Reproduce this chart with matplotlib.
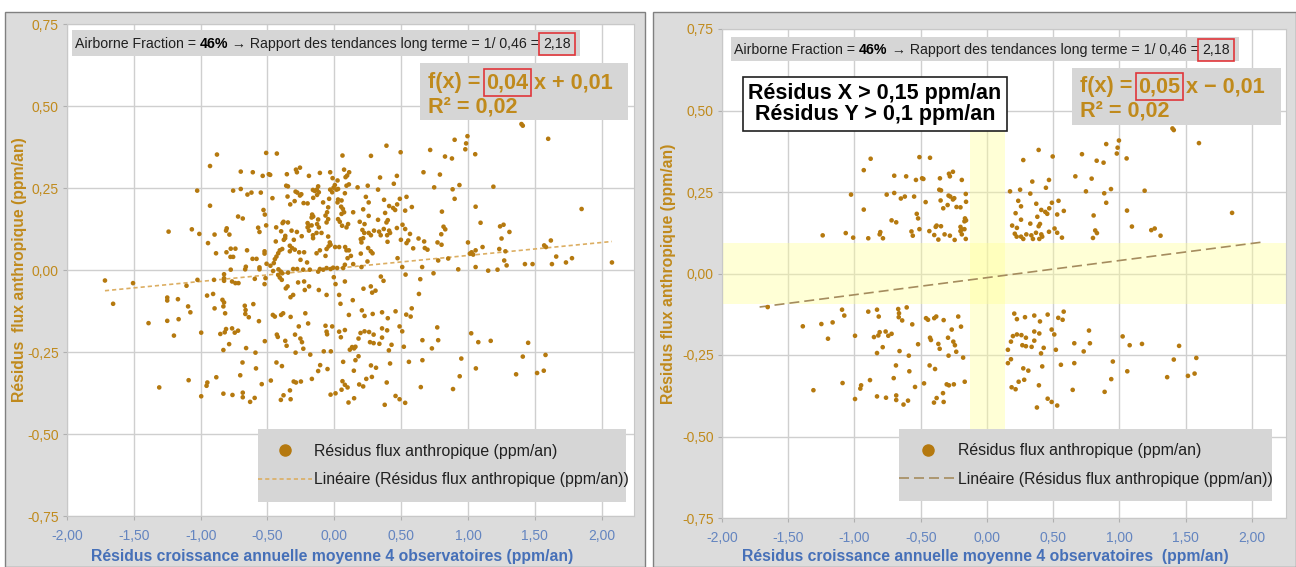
import numpy as np
import matplotlib
matplotlib.use("Agg")
import matplotlib.pyplot as plt
from matplotlib.patches import Rectangle
from matplotlib.lines import Line2D
from matplotlib.ticker import FuncFormatter, MultipleLocator

plt.rcParams['font.family'] = ['Liberation Sans', 'DejaVu Sans']

# residuals, upper-left quadrant (x < -0.15, y > 0.1)
x_ul = [-0.878, -0.93, -0.70, -0.61, -1.026, -0.757, -0.70, -0.65, -0.62, -0.55, -0.93, -0.72, -0.685,
        -0.57, -0.56, -1.24, -1.066, -1.01, -0.896, -0.805, -0.81, -0.785,
        -0.51, -0.43, -0.536, -0.49, -0.48, -0.355, -0.28, -0.257, -0.287, -0.19, -0.36, -0.347, -0.463,
        -0.35, -0.29, -0.277, -0.247, -0.257, -0.16, -0.158, -0.297, -0.33, -0.23, -0.2, -0.53, -0.52,
        -0.166, -0.158, -0.17, -0.51, -0.435, -0.38, -0.387, -0.347, -0.398, -0.367, -0.32, -0.28, -0.244,
        -0.2, -0.19, -0.2, -0.17, -0.19, -0.16]
y_ul = [0.352, 0.317, 0.30, 0.298, 0.242, 0.242, 0.247, 0.23, 0.236, 0.236, 0.196, 0.163, 0.157,
        0.129, 0.116, 0.117, 0.124, 0.11, 0.108, 0.127, 0.12, 0.108,
        0.357, 0.355, 0.287, 0.292, 0.29, 0.292, 0.298, 0.312, 0.306, 0.287, 0.257, 0.255, 0.219,
        0.224, 0.239, 0.236, 0.231, 0.227, 0.244, 0.22, 0.21, 0.2, 0.204, 0.203, 0.183, 0.169,
        0.169, 0.163, 0.16, 0.136, 0.13, 0.147, 0.143, 0.145, 0.118, 0.104, 0.12, 0.116, 0.103,
        0.143, 0.135, 0.13, 0.136, 0.12, 0.106]

# upper-right quadrant (x > 0.15, y > 0.1)
x_ur = [0.174, 0.25, 0.327, 0.274, 0.39, 0.496, 0.342, 0.468, 0.445, 0.236, 0.257, 0.372, 0.41, 0.44,
        0.455, 0.47, 0.49, 0.54, 0.58, 0.53, 0.216, 0.257, 0.38, 0.40, 0.39, 0.327, 0.19, 0.226, 0.297,
        0.21, 0.224, 0.257, 0.335, 0.37, 0.41, 0.417, 0.274, 0.347, 0.395, 0.468, 0.51, 0.53, 0.566,
        0.717, 0.667, 0.747, 0.79, 0.828, 0.88, 0.90, 0.98, 0.986, 0.996, 1.054, 0.885, 0.936, 0.90,
        1.19, 0.805, 1.057, 1.094, 0.817, 0.83, 0.80, 1.24, 1.266, 1.31, 1.40, 1.41, 1.60, 1.85]
y_ur = [0.252, 0.257, 0.245, 0.348, 0.379, 0.359, 0.282, 0.287, 0.263, 0.223, 0.206, 0.214, 0.195, 0.189,
        0.183, 0.2, 0.217, 0.223, 0.192, 0.181, 0.185, 0.165, 0.174, 0.152, 0.145, 0.153, 0.147, 0.14, 0.12,
        0.122, 0.113, 0.113, 0.117, 0.125, 0.12, 0.113, 0.106, 0.106, 0.106, 0.128, 0.138, 0.125, 0.11,
        0.366, 0.298, 0.252, 0.291, 0.346, 0.34, 0.397, 0.368, 0.386, 0.408, 0.353, 0.246, 0.259, 0.217,
        0.254, 0.178, 0.193, 0.144, 0.132, 0.124, 0.109, 0.133, 0.138, 0.116, 0.445, 0.44, 0.40, 0.186]

# lower-left quadrant (x < -0.15, y < -0.1)
x_ll = [-1.655, -1.39, -1.25, -1.165, -1.20, -1.094, -1.077, -0.996, -0.896, -0.83, -0.817, -0.67, -0.664,
        -0.666, -0.64, -0.606, -0.564, -0.853, -0.82, -0.81, -0.765, -0.745, -0.72, -0.787, -0.83, -0.66,
        -0.59, -0.52, -0.687, -0.586, -0.704, -0.543, -0.475, -0.883, -1.09, -0.95, -0.956, -1.31, -0.996,
        -0.83, -0.762, -0.685, -0.685, -0.63, -0.596,
        -0.46, -0.445, -0.398, -0.383, -0.327, -0.217, -0.266, -0.196, -0.43, -0.423, -0.367, -0.357,
        -0.294, -0.254, -0.242, -0.232, -0.29, -0.18, -0.433, -0.392, -0.304, -0.287, -0.25, -0.168,
        -0.332, -0.38, -0.40, -0.327]
y_ll = [-0.103, -0.162, -0.155, -0.150, -0.20, -0.111, -0.129, -0.191, -0.117, -0.111, -0.132, -0.109, -0.122,
        -0.134, -0.144, -0.104, -0.156, -0.195, -0.19, -0.18, -0.178, -0.191, -0.185, -0.226, -0.244, -0.238,
        -0.252, -0.217, -0.282, -0.30, -0.321, -0.348, -0.337, -0.327, -0.336, -0.343, -0.353, -0.358, -0.385,
        -0.377, -0.381, -0.374, -0.388, -0.402, -0.39,
        -0.137, -0.142, -0.137, -0.132, -0.143, -0.132, -0.172, -0.163, -0.197, -0.204, -0.216, -0.231,
        -0.197, -0.209, -0.22, -0.24, -0.252, -0.258, -0.282, -0.293, -0.34, -0.343, -0.34, -0.332,
        -0.367, -0.382, -0.396, -0.394]

# lower-right quadrant (x > 0.15, y < -0.1)
x_lr = [0.206, 0.226, 0.287, 0.357, 0.40, 0.458, 0.538, 0.571, 0.579, 0.196, 0.226, 0.26, 0.294, 0.181,
        0.267, 0.294, 0.337, 0.357, 0.395, 0.357, 0.488, 0.508, 0.428, 0.408, 0.52, 0.158, 0.158, 0.181,
        0.274, 0.312, 0.417, 0.239, 0.281, 0.186, 0.216, 0.392, 0.558, 0.659, 0.659, 0.77, 0.777, 0.73,
        0.647, 0.458, 0.488, 0.53, 0.377, 0.888, 0.95, 0.938, 1.059, 1.024, 1.077, 1.17, 1.36, 1.45,
        1.41, 1.517, 1.567, 1.58]
y_lr = [-0.123, -0.14, -0.134, -0.129, -0.147, -0.126, -0.136, -0.142, -0.117, -0.192, -0.187, -0.189, -0.197,
        -0.209, -0.22, -0.223, -0.225, -0.178, -0.184, -0.206, -0.172, -0.187, -0.228, -0.245, -0.234, -0.234,
        -0.275, -0.263, -0.291, -0.298, -0.285, -0.332, -0.326, -0.349, -0.355, -0.343, -0.28, -0.214, -0.275,
        -0.175, -0.214, -0.239, -0.357, -0.384, -0.394, -0.405, -0.411, -0.363, -0.27, -0.324, -0.30, -0.193,
        -0.22, -0.216, -0.318, -0.222, -0.264, -0.314, -0.307, -0.259]

# central cross (|x| < 0.15 or |y| < 0.1), hidden in the filtered chart
x_mid = [-1.716, -1.506, -1.106, -1.024, -1.25, -1.25, -1.17, -0.945, -0.885, -0.90, -0.825, -0.825, -0.825,
         -0.952, -0.907, -0.837, -0.825, -0.807, -0.775, -0.74, -0.777, -0.757, -0.775, -0.765, -0.74, -0.717,
         -0.653, -0.662, -0.667, -0.595, -0.612, -0.582, -0.56, -0.56, -0.522, -0.522, -0.522, -0.515, -0.507,
         -0.478, -0.453, -0.445, -0.433, -0.42, -0.408, -0.39, -0.458, -0.418, -0.40, -0.39, -0.42, -0.408,
         -0.393, -0.438, -0.378, -0.368, -0.303, -0.333, -0.316, -0.296, -0.333, -0.263, -0.226, -0.253,
         -0.204, -0.133, -0.108, -0.066, -0.058, -0.043, -0.028, 0.006, 0.036, 0.081, 0.091, 0.099, -0.034,
         -0.159, -0.133, -0.096, -0.046, -0.346, -0.308, -0.278, -0.233, -0.183, -0.121, -0.108, -0.083,
         -0.058, -0.028, -0.009, 0.021, 0.066, 0.079, -0.35, -0.363, -0.226, -0.189, -0.221, -0.116, -0.058,
         -0.004, 0.009, 0.036, 0.079, -0.328, -0.308, 0.046, -0.271,
         0.109, 0.124, 0.141, 0.203, 0.248, 0.198, 0.253, 0.273, 0.286, 0.203, 0.198, 0.216, 0.398, 0.498,
         0.54, 0.553, 0.59, 0.63, 0.672, 0.677, 0.697, 0.772, 0.802, 0.473, 0.508, 0.657, 0.777, 0.852,
         0.927, 1.0, 1.014, 1.027, 1.039, 1.057, 1.109, 1.057, 1.151, 1.221, 1.234, 1.251, 1.28, 1.271,
         1.289, 1.426, 1.483, 1.57, 1.583, 1.62, 1.628, 1.66, 1.733, 1.778, 2.077, 0.348, 0.368, 0.218,
         0.273, 0.283, 0.308, 0.138, 0.533, 0.643, 0.633, 0.742,
         0.061, 0.073, 0.111, 0.096, 0.084, -0.031, -0.013, -0.108, 0.024, 0.004, -0.006, 0.016, 0.028,
         0.091, 0.109, -0.121, -0.131, -0.116, -0.146, -0.031, -0.016, 0.079, 0.028, 0.024, 0.054, -0.084,
         -0.039, -0.129, 0.051, 0.064, 0.073, 0.054, -0.046, -0.054, -0.066, -0.046, -0.058, -0.121, -0.129,
         -0.116, 0.028, 0.041, 0.058, 0.091, 0.141, 0.103,
         -0.016, -0.066, -0.058, -0.054, 0.036, 0.079, 0.049, 0.109, 0.116, 0.133, 0.148, -0.079, -0.026,
         0.066, 0.146, -0.051, -0.106, -0.121, 0.061, 0.079, 0.099, 0.054, 0.009, -0.028, 0.148, 0.106]
y_mid = [-0.032, -0.040, -0.048, -0.030, -0.084, -0.093, -0.089, 0.082, 0.051, -0.030, -0.013, -0.025, -0.033,
         -0.078, -0.073, -0.091, -0.099, 0.054, 0.065, 0.065, 0.040, 0.040, 0.001, -0.035, -0.040, -0.040,
         0.060, 0.010, 0.002, -0.027, 0.034, 0.034, 0.008, 0.002, 0.057, 0.050, -0.043, -0.025, 0.019,
         0.013, 0.021, 0.033, 0.041, 0.051, 0.060, 0.064, -0.003, 0.002, -0.005, -0.010, -0.015, -0.023,
         -0.030, 0.087, 0.092, 0.097, 0.092, 0.074, 0.067, 0.062, 0.057, 0.054, 0.054, 0.031,
         0.023, 0.051, 0.060, 0.043, 0.064, 0.072, 0.077, 0.070, 0.070, 0.070, 0.060, 0.036, 0.084,
         0.097, 0.113, 0.113, 0.102, -0.008, 0.003, 0.003, 0.001, 0.001, -0.005, 0.003, 0.001,
         0.006, 0.003, 0.007, 0.006, 0.006, 0.016, -0.050, -0.056, -0.035, -0.050, -0.061, -0.061, -0.076,
         -0.022, -0.043, -0.076, -0.035, -0.083, -0.076, -0.103, -0.038,
         0.060, 0.043, 0.018, 0.009, 0.026, 0.050, 0.067, 0.057, 0.051, 0.084, 0.094, 0.097, 0.086, 0.092,
         0.082, 0.090, 0.066, 0.096, 0.087, 0.067, 0.062, 0.084, 0.077, 0.036, 0.009, 0.009, 0.029, 0.035,
         0.002, 0.084, 0.050, 0.054, 0.047, 0.060, 0.070, 0.009, -0.002, 0.001, 0.064, 0.096, 0.057, 0.029,
         0.014, 0.018, 0.018, 0.075, 0.070, 0.090, 0.018, 0.041, 0.023, 0.036, 0.023, -0.020, -0.033, -0.057,
         -0.050, -0.069, -0.063, -0.092, -0.014, -0.028, -0.073, -0.010,
         0.349, 0.306, 0.298, 0.288, 0.283, 0.298, 0.280, 0.296, 0.273, 0.259, 0.251, 0.245, 0.247,
         0.257, 0.261, 0.255, 0.245, 0.237, 0.241, 0.245, 0.237, 0.234, 0.215, 0.206, 0.212, 0.206,
         0.217, 0.229, 0.193, 0.186, 0.176, 0.171, 0.191, 0.176, 0.166, 0.155, 0.145, 0.154, 0.140,
         0.130, 0.155, 0.147, 0.135, 0.130, 0.176, 0.140,
         -0.172, -0.170, -0.188, -0.196, -0.188, -0.183, -0.205, -0.137, -0.243, -0.235, -0.239, -0.248, -0.248,
         -0.280, -0.307, -0.302, -0.290, -0.308, -0.339, -0.350, -0.358, -0.365, -0.376, -0.380, -0.391, -0.404]

quad_x = np.array(x_ul + x_ur + x_ll + x_lr)
quad_y = np.array(y_ul + y_ur + y_ll + y_lr)
all_x = np.concatenate([quad_x, x_mid])
all_y = np.concatenate([quad_y, y_mid])

W, H = 1296, 567
fig = plt.figure(figsize=(W / 100, H / 100), dpi=100, facecolor='white')


def fx(px):
    return px / W


def fy(py):
    return 1 - py / H


GOLD = '#b5790f'
LABEL_GOLD = '#c08a1c'
BLUE = '#4670b8'
TICK_BLUE = '#6485c0'
BOX_GRAY = '#d6d6d6'
RED = '#e0363a'

fmt = FuncFormatter(lambda v, _: f"{v:.2f}".replace('.', ',').replace('-0,00', '0,00'))

# panel backgrounds
for x0, x1 in [(5, 645), (653, 1296)]:
    fig.add_artist(Rectangle((fx(x0), 0), fx(x1) - fx(x0), fy(12), transform=fig.transFigure,
                             facecolor='#dcdcdc', edgecolor='#808080', lw=1, zorder=-1))


def gray_box(ax, x0, y0, x1, y1, z=4.5):
    ax.add_patch(Rectangle((fx(x0), fy(y1)), fx(x1) - fx(x0), fy(y0) - fy(y1), transform=fig.transFigure,
                           facecolor=BOX_GRAY, edgecolor='none', clip_on=False, zorder=z))


def chain(ax, pieces, px, py, fs):
    prev = None
    for txt, kw in pieces:
        if prev is None:
            prev = ax.text(fx(px), fy(py), txt, transform=fig.transFigure, fontsize=fs,
                           va='baseline', zorder=7, clip_on=False, **kw)
        else:
            prev = ax.annotate(txt, xy=(1, 0), xycoords=prev, va='bottom', ha='left', fontsize=fs,
                               zorder=7, annotation_clip=False, **kw)
    return prev


def panel(rect, xs, ys, xmax, ls, lcolor, xlabel, ylabel, slope_txt, sign_txt, af_box, eq_box,
          af_pos, eq_pos, leg_box, handle_len):
    ax = fig.add_axes(rect)
    ax.set_facecolor('white')
    ax.set_xlim(-2, xmax)
    ax.set_ylim(-0.75, 0.75)
    ax.xaxis.set_major_locator(MultipleLocator(0.5))
    ax.yaxis.set_major_locator(MultipleLocator(0.25))
    ax.xaxis.set_major_formatter(fmt)
    ax.yaxis.set_major_formatter(fmt)
    ax.grid(True, color='#cfcfcf', lw=1)
    ax.set_axisbelow(True)
    for s in ax.spines.values():
        s.set_color('#c8c8c8')
    ax.tick_params(axis='x', colors='#b0b0b0', labelcolor=TICK_BLUE, labelsize=10, length=3, pad=6)
    ax.tick_params(axis='y', colors='#b0b0b0', labelcolor=LABEL_GOLD, labelsize=10, length=3, pad=3)

    ax.scatter(xs, ys, s=11, color=GOLD, edgecolors='none', zorder=3)
    k, b = np.polyfit(xs, ys, 1)
    lx = np.array([all_x.min(), all_x.max()])
    ax.plot(lx, k * lx + b, ls=ls, color=lcolor, lw=1.2, zorder=2.5)

    ax.set_xlabel(xlabel, color=BLUE, fontsize=11.3, fontweight='bold')
    ax.set_ylabel(ylabel, color=LABEL_GOLD, fontsize=11.3, fontweight='bold')

    # airborne fraction banner
    gray_box(ax, *af_box)
    chain(ax, [("Airborne Fraction = ", dict(color='#202020')),
               ("46%", dict(color='black', fontweight='bold')),
               (" \u2192 Rapport des tendances long terme = 1/ 0,46 = ", dict(color='#202020')),
               ("2,18", dict(color='#202020',
                             bbox=dict(boxstyle='square,pad=0.3', fc='none', ec=RED, lw=1.2)))],
          af_pos[0], af_pos[1], 10.2)

    # regression equation
    gray_box(ax, *eq_box)
    eq_kw = dict(color=LABEL_GOLD, fontweight='bold')
    chain(ax, [("f(x) = ", eq_kw),
               (slope_txt, dict(eq_kw, bbox=dict(boxstyle='square,pad=0.12', fc='none', ec=RED, lw=1.2))),
               (sign_txt, eq_kw)], eq_pos[0], eq_pos[1], 15.6)
    ax.text(fx(eq_pos[0]), fy(eq_pos[1] + 24), "R\u00b2 = 0,02", transform=fig.transFigure,
            fontsize=15.6, va='baseline', zorder=7, **eq_kw)

    # legend
    gray_box(ax, *leg_box)
    handles = [Line2D([], [], ls='none', marker='o', ms=8, color=GOLD),
               Line2D([], [], ls=ls, color=lcolor, lw=1.2)]
    ax.legend(handles, ["R\u00e9sidus flux anthropique (ppm/an)",
                        "Lin\u00e9aire (R\u00e9sidus flux anthropique (ppm/an))"],
              loc='center left', bbox_to_anchor=(fx(leg_box[0]), fy((leg_box[1] + leg_box[3]) / 2)),
              bbox_transform=fig.transFigure, frameon=False, borderpad=0, borderaxespad=0,
              handlelength=handle_len, handletextpad=0.15, labelspacing=0.85, fontsize=11.4,
              labelcolor='#202020').set_zorder(6)
    return ax


ax1 = panel([fx(67), fy(516), 567 / W, 492 / H], all_x, all_y, 2.242, (0, (2.5, 1.8)), '#dcae62',
            "R\u00e9sidus croissance annuelle moyenne 4 observatoires (ppm/an)",
            "R\u00e9sidus  flux anthropique (ppm/an)", "0,04", " x + 0,01",
            (72, 30, 580, 56), (420, 63, 628, 120), (75, 48), (428, 88), (258, 429, 626, 502), 3.4)
ax1.xaxis.set_label_coords(0.467, -0.067)
ax1.yaxis.set_label_coords(-0.0705, 0.5)

ax2 = panel([fx(722), fy(518), 564 / W, 489 / H], quad_x, quad_y, 2.257, (0, (6, 3)), '#a58c5e',
            "R\u00e9sidus croissance annuelle moyenne 4 observatoires  (ppm/an)",
            "R\u00e9sidus flux anthropique (ppm/an)", "0,05", " x \u2212 0,01",
            (731, 37, 1239, 61), (1072, 68, 1281, 125), (734, 54), (1080, 92), (899, 429, 1272, 501), 3.6)
ax2.xaxis.set_label_coords(0.466, -0.063)
ax2.yaxis.set_label_coords(-0.082, 0.5)

# filter bands
ax2.axhspan(-0.095, 0.095, color='#ffff99', alpha=0.4, lw=0, zorder=1)
ax2.axvspan(-0.13, 0.135, ymin=(0.75 - 0.48) / 1.5, ymax=(0.75 + 0.5) / 1.5, color='#ffff99', alpha=0.4,
            lw=0, zorder=1)
ax2.text(fx(875), fy(104), "R\u00e9sidus X > 0,15 ppm/an\nR\u00e9sidus Y > 0,1 ppm/an",
         transform=fig.transFigure, ha='center', va='center', multialignment='center', fontsize=15.5,
         fontweight='bold', color='black', zorder=7, linespacing=1.05,
         bbox=dict(boxstyle='square,pad=0.25', fc='white', ec='#202020', lw=1.2))

fig.savefig('out.png', dpi=100, facecolor='white')
